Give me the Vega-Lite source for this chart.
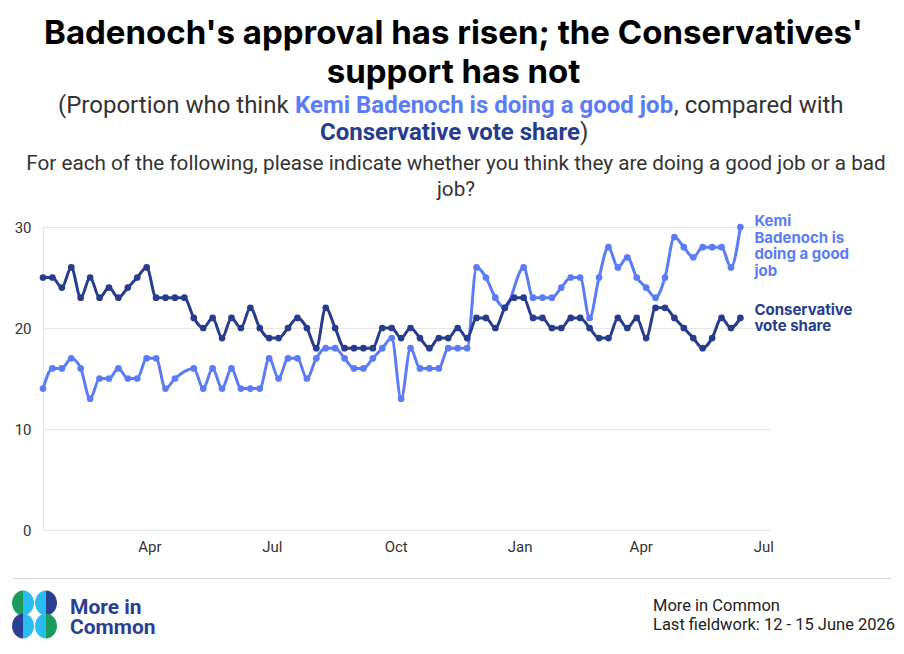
{
  "$schema": "https://vega.github.io/schema/vega-lite/v6.json",
  "background": "white",
  "padding": {"left": 12, "right": 12, "top": 18, "bottom": 0},
  "config": {"view": {"stroke": null}, "font": "Roboto"},
  "title": {"text": ["Badenoch's approval has risen; the Conservatives'", "support has not"], "font": "Inter", "fontSize": 33, "fontWeight": "bold", "color": "#000000", "anchor": "middle", "lineHeight": 39, "offset": 4},
  "datasets": {
    "poll": [
      {"date": "2025-01-12", "kemi": 14, "conservative": 25},
      {"date": "2025-01-19", "kemi": 16, "conservative": 25},
      {"date": "2025-01-26", "kemi": 16, "conservative": 24},
      {"date": "2025-02-02", "kemi": 17, "conservative": 26},
      {"date": "2025-02-09", "kemi": 16, "conservative": 23},
      {"date": "2025-02-16", "kemi": 13, "conservative": 25},
      {"date": "2025-02-23", "kemi": 15, "conservative": 23},
      {"date": "2025-03-02", "kemi": 15, "conservative": 24},
      {"date": "2025-03-09", "kemi": 16, "conservative": 23},
      {"date": "2025-03-16", "kemi": 15, "conservative": 24},
      {"date": "2025-03-23", "kemi": 15, "conservative": 25},
      {"date": "2025-03-30", "kemi": 17, "conservative": 26},
      {"date": "2025-04-06", "kemi": 17, "conservative": 23},
      {"date": "2025-04-13", "kemi": 14, "conservative": 23},
      {"date": "2025-04-20", "kemi": 15, "conservative": 23},
      {"date": "2025-04-27", "kemi": null, "conservative": 23},
      {"date": "2025-05-04", "kemi": 16, "conservative": 21},
      {"date": "2025-05-11", "kemi": 14, "conservative": 20},
      {"date": "2025-05-18", "kemi": 16, "conservative": 21},
      {"date": "2025-05-25", "kemi": 14, "conservative": 19},
      {"date": "2025-06-01", "kemi": 16, "conservative": 21},
      {"date": "2025-06-08", "kemi": 14, "conservative": 20},
      {"date": "2025-06-15", "kemi": 14, "conservative": 22},
      {"date": "2025-06-22", "kemi": 14, "conservative": 20},
      {"date": "2025-06-29", "kemi": 17, "conservative": 19},
      {"date": "2025-07-06", "kemi": 15, "conservative": 19},
      {"date": "2025-07-13", "kemi": 17, "conservative": 20},
      {"date": "2025-07-20", "kemi": 17, "conservative": 21},
      {"date": "2025-07-27", "kemi": 15, "conservative": 20},
      {"date": "2025-08-03", "kemi": 17, "conservative": 18},
      {"date": "2025-08-10", "kemi": 18, "conservative": 22},
      {"date": "2025-08-17", "kemi": 18, "conservative": 20},
      {"date": "2025-08-24", "kemi": 17, "conservative": 18},
      {"date": "2025-08-31", "kemi": 16, "conservative": 18},
      {"date": "2025-09-07", "kemi": 16, "conservative": 18},
      {"date": "2025-09-14", "kemi": 17, "conservative": 18},
      {"date": "2025-09-21", "kemi": 18, "conservative": 20},
      {"date": "2025-09-28", "kemi": 19, "conservative": 20},
      {"date": "2025-10-05", "kemi": 13, "conservative": 19},
      {"date": "2025-10-12", "kemi": 18, "conservative": 20},
      {"date": "2025-10-19", "kemi": 16, "conservative": 19},
      {"date": "2025-10-26", "kemi": 16, "conservative": 18},
      {"date": "2025-11-02", "kemi": 16, "conservative": 19},
      {"date": "2025-11-09", "kemi": 18, "conservative": 19},
      {"date": "2025-11-16", "kemi": 18, "conservative": 20},
      {"date": "2025-11-23", "kemi": 18, "conservative": 19},
      {"date": "2025-11-30", "kemi": 26, "conservative": 21},
      {"date": "2025-12-07", "kemi": 25, "conservative": 21},
      {"date": "2025-12-14", "kemi": 23, "conservative": 20},
      {"date": "2025-12-21", "kemi": 22, "conservative": 22},
      {"date": "2025-12-28", "kemi": null, "conservative": 23},
      {"date": "2026-01-04", "kemi": 26, "conservative": 23},
      {"date": "2026-01-11", "kemi": 23, "conservative": 21},
      {"date": "2026-01-18", "kemi": 23, "conservative": 21},
      {"date": "2026-01-25", "kemi": 23, "conservative": 20},
      {"date": "2026-02-01", "kemi": 24, "conservative": 20},
      {"date": "2026-02-08", "kemi": 25, "conservative": 21},
      {"date": "2026-02-15", "kemi": 25, "conservative": 21},
      {"date": "2026-02-22", "kemi": 21, "conservative": 20},
      {"date": "2026-03-01", "kemi": 25, "conservative": 19},
      {"date": "2026-03-08", "kemi": 28, "conservative": 19},
      {"date": "2026-03-15", "kemi": 26, "conservative": 21},
      {"date": "2026-03-22", "kemi": 27, "conservative": 20},
      {"date": "2026-03-29", "kemi": 25, "conservative": 21},
      {"date": "2026-04-05", "kemi": 24, "conservative": 19},
      {"date": "2026-04-12", "kemi": 23, "conservative": 22},
      {"date": "2026-04-19", "kemi": 25, "conservative": 22},
      {"date": "2026-04-26", "kemi": 29, "conservative": 21},
      {"date": "2026-05-03", "kemi": 28, "conservative": 20},
      {"date": "2026-05-10", "kemi": 27, "conservative": 19},
      {"date": "2026-05-17", "kemi": 28, "conservative": 18},
      {"date": "2026-05-24", "kemi": 28, "conservative": 19},
      {"date": "2026-05-31", "kemi": 28, "conservative": 21},
      {"date": "2026-06-07", "kemi": 26, "conservative": 20},
      {"date": "2026-06-14", "kemi": 30, "conservative": 21}
    ],
    "labels": [
      {"date": "2026-06-14", "key": "kemi", "value": 30, "label": "Kemi\nBadenoch is\ndoing a good\njob"},
      {"date": "2026-06-14", "key": "conservative", "value": 21, "label": "Conservative\nvote share"}
    ],
    "logo": [
      {"col": "L", "row": "T", "half": "left", "tone": "green"},
      {"col": "L", "row": "T", "half": "right", "tone": "cyan"},
      {"col": "R", "row": "T", "half": "left", "tone": "cyan"},
      {"col": "R", "row": "T", "half": "right", "tone": "navy"},
      {"col": "L", "row": "B", "half": "left", "tone": "navy"},
      {"col": "L", "row": "B", "half": "right", "tone": "cyan"},
      {"col": "R", "row": "B", "half": "left", "tone": "cyan"},
      {"col": "R", "row": "B", "half": "right", "tone": "green"}
    ]
  },
  "spacing": 12,
  "resolve": {"scale": {"x": "independent", "y": "independent", "color": "independent", "shape": "independent"}},
  "vconcat": [
    {
      "spacing": 7,
      "vconcat": [
        {
          "spacing": 2,
          "vconcat": [
            {
              "spacing": 6,
              "hconcat": [
                {"width": 40, "height": 1, "data": {"values": [{}]}, "mark": {"type": "point", "opacity": 0, "size": 0}},
                {"width": 1, "height": 1, "data": {"values": [{}]}, "mark": {"type": "point", "opacity": 0, "size": 0}, "title": {"text": "(Proportion who think", "anchor": "start", "font": "Roboto", "fontSize": 24, "fontWeight": "normal", "color": "#333333", "offset": 0}},
                {
                  "spacing": 0,
                  "hconcat": [
                    {"width": 1, "height": 1, "data": {"values": [{}]}, "mark": {"type": "point", "opacity": 0, "size": 0}, "title": {"text": "Kemi Badenoch is doing a good job", "anchor": "start", "font": "Roboto", "fontSize": 24, "fontWeight": "bold", "color": "#5b7cf6", "offset": 0}},
                    {"width": 1, "height": 1, "data": {"values": [{}]}, "mark": {"type": "point", "opacity": 0, "size": 0}, "title": {"text": ", compared with", "anchor": "start", "font": "Roboto", "fontSize": 24, "fontWeight": "normal", "color": "#333333", "offset": 0}}
                  ]
                }
              ]
            },
            {
              "spacing": 0,
              "hconcat": [
                {"width": 308, "height": 1, "data": {"values": [{}]}, "mark": {"type": "point", "opacity": 0, "size": 0}},
                {"width": 1, "height": 1, "data": {"values": [{}]}, "mark": {"type": "point", "opacity": 0, "size": 0}, "title": {"text": "Conservative vote share", "anchor": "start", "font": "Roboto", "fontSize": 24, "fontWeight": "bold", "color": "#283c8e", "offset": 0}},
                {"width": 1, "height": 1, "data": {"values": [{}]}, "mark": {"type": "point", "opacity": 0, "size": 0}, "title": {"text": ")", "anchor": "start", "font": "Roboto", "fontSize": 24, "fontWeight": "normal", "color": "#333333", "offset": 0}}
              ]
            }
          ]
        },
        {
          "spacing": 0,
          "hconcat": [
            {"width": 14, "height": 1, "data": {"values": [{}]}, "mark": {"type": "point", "opacity": 0, "size": 0}},
            {"width": 1, "height": 1, "data": {"values": [{}]}, "mark": {"type": "point", "opacity": 0, "size": 0}, "title": {"text": ["For each of the following, please indicate whether you think they are doing a good job or a bad", "job?"], "anchor": "start", "align": "center", "font": "Roboto", "fontSize": 20.7, "fontWeight": "normal", "color": "#333333", "lineHeight": 26, "offset": 0}}
          ]
        }
      ]
    },
    {
      "spacing": 0,
      "hconcat": [
        {"width": 1, "height": 1, "data": {"values": [{}]}, "mark": {"type": "point", "opacity": 0, "size": 0}},
        {
          "width": 727,
          "height": 303,
          "encoding": {
            "x": {"field": "date", "type": "temporal",
              "scale": {"type": "utc", "domain": [{"year": 2025, "month": 1, "date": 12, "utc": true}, {"year": 2026, "month": 7, "date": 6, "utc": true}]},
              "axis": {"title": null, "format": "%b", "values": [{"year": 2025, "month": 4, "date": 1, "utc": true}, {"year": 2025, "month": 7, "date": 1, "utc": true}, {"year": 2025, "month": 10, "date": 1, "utc": true}, {"year": 2026, "month": 1, "date": 1, "utc": true}, {"year": 2026, "month": 4, "date": 1, "utc": true}, {"year": 2026, "month": 7, "date": 1, "utc": true}], "grid": false, "domain": false, "ticks": false, "labelPadding": 9, "labelFontSize": 15, "labelFont": "Roboto", "labelColor": "#333333"}},
            "y": {"field": "value", "type": "quantitative", "scale": {"domain": [0, 30]},
              "axis": {"title": null, "values": [0, 10, 20, 30], "grid": true, "gridColor": "#e6e6e6", "domain": true, "domainColor": "#e6e6e6", "ticks": false, "labelPadding": 12, "labelFontSize": 15, "labelFont": "Roboto", "labelColor": "#333333", "minExtent": 30, "maxExtent": 30}},
            "color": {"field": "key", "type": "nominal", "scale": {"domain": ["kemi", "conservative"], "range": ["#5b7cf6", "#283c8e"]}, "legend": null}
          },
          "layer": [
            {"data": {"name": "poll"}, "transform": [{"fold": ["kemi", "conservative"], "as": ["key", "value"]}, {"filter": "isValid(datum.value)"}], "mark": {"type": "line", "interpolate": "monotone", "strokeWidth": 3}},
            {"data": {"name": "poll"}, "transform": [{"fold": ["kemi", "conservative"], "as": ["key", "value"]}, {"filter": "isValid(datum.value)"}], "mark": {"type": "circle", "size": 45, "opacity": 1}},
            {"data": {"name": "labels"}, "transform": [{"filter": "datum.key === 'kemi'"}], "mark": {"type": "text", "align": "left", "baseline": "top", "dx": 14, "dy": -13, "font": "Inter", "fontSize": 15, "fontWeight": "bold", "lineHeight": 16.5, "lineBreak": "\n"}, "encoding": {"text": {"field": "label"}}},
            {"data": {"name": "labels"}, "transform": [{"filter": "datum.key === 'conservative'"}], "mark": {"type": "text", "align": "left", "baseline": "middle", "dx": 14, "dy": -8, "font": "Inter", "fontSize": 15, "fontWeight": "bold", "lineHeight": 16.5, "lineBreak": "\n"}, "encoding": {"text": {"field": "label"}}}
          ]
        }
      ]
    },
    {
      "width": 880, "height": 12,
      "data": {"values": [{}]},
      "mark": {"type": "point", "opacity": 0, "size": 0},
      "encoding": {"x": {"datum": 0, "type": "quantitative", "scale": {"domain": [0, 1]}, "axis": {"orient": "bottom", "domain": true, "domainColor": "#d9d9d9", "domainWidth": 1, "ticks": false, "labels": false, "grid": false, "title": null}}}
    },
    {
      "spacing": 13,
      "resolve": {"scale": {"x": "independent", "y": "independent", "color": "independent", "shape": "independent"}},
      "hconcat": [
        {
          "width": 45, "height": 45,
          "data": {"name": "logo"},
          "mark": {"type": "point", "filled": true, "opacity": 1, "size": 625, "strokeWidth": 0},
          "encoding": {
            "x": {"field": "col", "type": "ordinal", "scale": {"type": "point", "domain": ["L", "R"], "padding": 0.48}, "axis": null},
            "y": {"field": "row", "type": "ordinal", "scale": {"type": "point", "domain": ["T", "B"], "padding": 0.48}, "axis": null},
            "shape": {"field": "half", "type": "nominal", "scale": {"domain": ["left", "right"], "range": ["M0,-1 A0.88,1 0 0,0 0,1 Z", "M0,-1 A0.88,1 0 0,1 0,1 Z"]}, "legend": null},
            "color": {"field": "tone", "type": "nominal", "scale": {"domain": ["green", "navy", "cyan"], "range": ["#1c9c5c", "#2a3f94", "#2bbcef"]}, "legend": null}
          }
        },
        {"width": 570, "height": 5, "data": {"values": [{}]}, "mark": {"type": "point", "opacity": 0, "size": 0}, "title": {"text": ["More in", "Common"], "orient": "bottom", "anchor": "start", "font": "Roboto", "fontSize": 21, "fontWeight": "bold", "color": "#2a3f94", "lineHeight": 20, "offset": 0}},
        {"width": 1, "height": 6, "data": {"values": [{}]}, "mark": {"type": "point", "opacity": 0, "size": 0}, "title": {"text": ["More in Common", "Last fieldwork: 12 - 15 June 2026"], "orient": "bottom", "anchor": "start", "font": "Roboto", "fontSize": 16.5, "fontWeight": "normal", "color": "#222222", "lineHeight": 19, "offset": 0}}
      ]
    }
  ]
}
